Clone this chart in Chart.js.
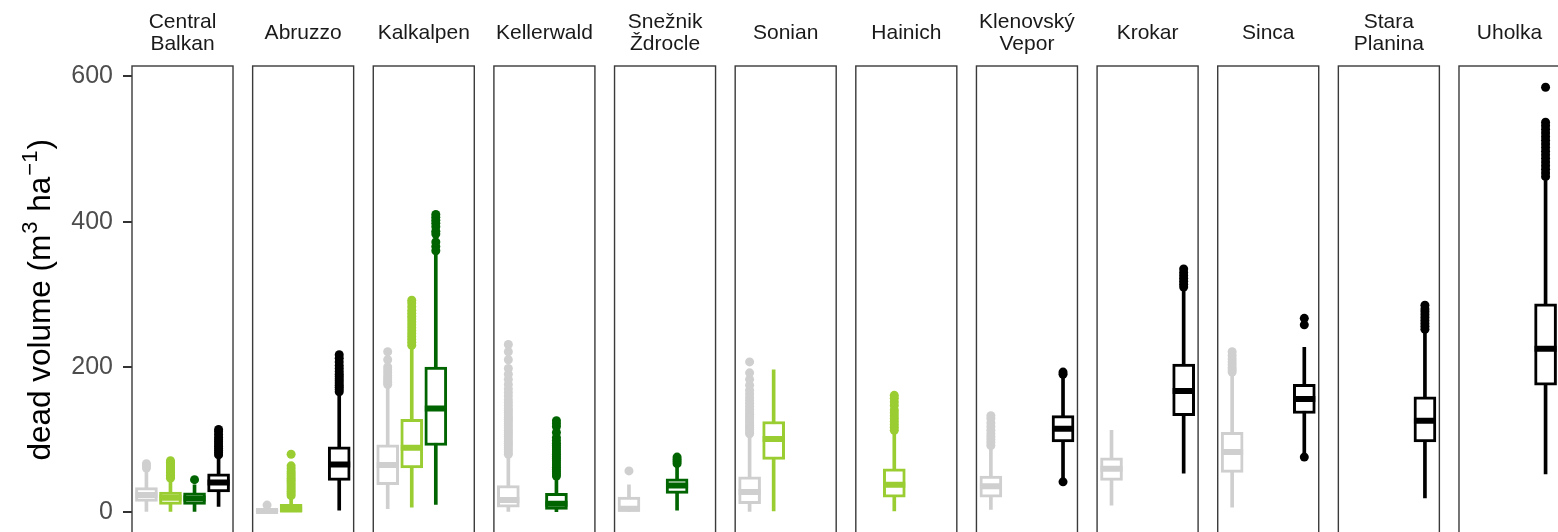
<!DOCTYPE html>
<html>
<head>
<meta charset="utf-8">
<script src="https://cdn.jsdelivr.net/npm/chart.js@4.4.1/dist/chart.umd.min.js"></script>
<style>
  html, body { margin: 0; padding: 0; background: #fff; overflow: hidden; }
  #wrap { position: relative; width: 1580px; height: 560px; }
</style>
</head>
<body>
<div id="wrap"><canvas id="chart" width="1580" height="560"></canvas></div>
<script>
// Facets (one panel per site), strip text split into lines
const sites = [
    ['Central', 'Balkan'], ['Abruzzo'], ['Kalkalpen'], ['Kellerwald'], ['Snežnik', 'Ždrocle'],
    ['Sonian'], ['Hainich'], ['Klenovský', 'Vepor'], ['Krokar'], ['Sinca'], ['Stara', 'Planina'], ['Uholka']
];

// Four groups inside every panel, drawn in this order
const groups = ['grey', 'lightgreen', 'darkgreen', 'black'];
const groupColors = ['#cfcfcf', '#9acd32', '#006400', '#000000'];

// Box statistics per site: [lower whisker, Q1, median, Q3, upper whisker]
const greyStats = [
    [0, 15, 24, 34, 57], [0, 0.5, 2, 4, 7], [5, 38, 65, 93, 172], [0, 7, 17, 37, 78],
    [0, 0, 5, 21, 38], [0, 12, 28, 49, 106], null, [4, 21, 36, 50, 88],
    [10, 44, 60, 75, 113], [7, 55, 83, 110, 190], null, null
];
const lightgreenStats = [
    [0, 11, 20, 28, 45], [0, 1, 4, 11, 21], [7, 61, 89, 128, 226], null,
    null, [2, 73, 101, 125, 196], [2, 21, 38, 60, 110], null,
    null, null, null, null
];
const darkgreenStats = [
    [0, 11, 19, 27, 38], null, [11, 92, 143, 200, 356], [1, 4, 12, 26, 48],
    [3, 26, 37, 46, 65], null, null, null,
    null, null, null, null
];
const blackStats = [
    [8, 28, 41, 53, 76], [3, 44, 66, 90, 160], null, null,
    null, null, null, [46, 97, 115, 133, 188],
    [54, 133, 167, 204, 305], [80, 136, 156, 176, 227], [20, 97, 126, 159, 248], [53, 175, 225, 287, 456]
];

// Outlying points per site
const greyOutliers = [
    [61, 64, 67], [10], [176, 179, 182, 185, 188, 192, 196, 200, 210, 221],
    [80, 83, 86, 89, 92, 95, 98, 101, 104, 107, 110, 113, 116, 119, 122, 125, 128, 131, 134, 137,
     140, 143, 147, 151, 155, 160, 165, 170, 176, 183, 190, 198, 210, 221, 231],
    [57],
    [108, 111, 114, 117, 120, 123, 126, 129, 132, 135, 138, 142, 146, 150, 154, 158, 163, 168, 175, 183, 192, 207],
    [], [92, 96, 100, 104, 108, 113, 118, 123, 129, 133], [],
    [193, 196, 199, 203, 207, 211, 216, 221], [], []
];
const lightgreenOutliers = [
    [47, 49, 51, 53, 55, 57, 59, 61, 63, 65, 67, 69, 71],
    [23, 26, 29, 32, 35, 38, 41, 44, 47, 50, 53, 56, 60, 64, 80],
    [230, 234, 238, 242, 246, 250, 254, 258, 262, 266, 270, 274, 278, 283, 288, 292],
    [], [], [],
    [113, 117, 121, 125, 129, 133, 137, 141, 147, 152, 157, 161],
    [], [], [], [], []
];
const darkgreenOutliers = [
    [45], [], [360, 366, 372, 383, 387, 393, 398, 402, 406, 410],
    [50, 53, 56, 59, 62, 65, 68, 71, 74, 77, 80, 83, 86, 89, 92, 95, 99, 103, 110, 118, 122, 126],
    [67, 70, 73, 76], [], [], [], [], [], [], []
];
const blackOutliers = [
    [79, 82, 85, 88, 91, 94, 97, 100, 103, 107, 111, 114],
    [166, 169, 172, 175, 178, 181, 184, 187, 190, 194, 198, 202, 207, 212, 217],
    [], [], [], [], [],
    [42, 190, 193],
    [310, 314, 318, 322, 326, 330, 335],
    [76, 258, 267],
    [252, 256, 260, 264, 268, 272, 276, 280, 285],
    [462, 467, 472, 477, 482, 487, 492, 497, 502, 507, 512, 517, 522, 527, 532, 537, 585]
];

const yTicks = [0, 200, 400, 600];
const yTitle = ['dead volume (m', '3', ' ha', '\u22121', ')'];

const allStats = [greyStats, lightgreenStats, darkgreenStats, blackStats];
const allOutliers = [greyOutliers, lightgreenOutliers, darkgreenOutliers, blackOutliers];

const FONT = '"Liberation Sans", Arial, sans-serif';
const PANEL_STEP = 5.016;   // x units from one panel start to the next
const SLOT_MIN = 0.4, SLOT_MAX = 4.6;

function slotX(siteIdx, groupIdx) {
    return siteIdx * PANEL_STEP + groupIdx + 1;
}

const datasets = [];
groups.forEach((g, gi) => {
    const color = groupColors[gi];
    const whiskers = [], boxes = [], medians = [], points = [];
    allStats[gi].forEach((s, si) => {
        if (!s) return;
        const x = slotX(si, gi);
        whiskers.push({ x: x, y: [s[0], s[4]] });
        boxes.push({ x: x, y: [s[1], s[3]] });
        medians.push({ x: x, y: s[2] });
        allOutliers[gi][si].forEach(v => points.push({ x: x, y: v }));
    });
    datasets.push({
        type: 'bar', label: g + ' whisker', data: whiskers, order: 4,
        backgroundColor: color, borderWidth: 0, barThickness: 3, grouped: false
    });
    datasets.push({
        type: 'bar', label: g + ' box', data: boxes, order: 3,
        backgroundColor: '#ffffff', borderColor: color, borderWidth: 3,
        borderSkipped: false, barThickness: 22, grouped: false
    });
    datasets.push({
        type: 'scatter', label: g + ' median', data: medians, order: 2,
        pointStyle: 'line', pointRadius: 11, pointBorderWidth: 6,
        pointBorderColor: color, pointBackgroundColor: color
    });
    datasets.push({
        type: 'scatter', label: g + ' outliers', data: points, order: 1,
        pointStyle: 'circle', pointRadius: 4.5, pointBorderWidth: 0,
        pointBackgroundColor: color, pointBorderColor: color
    });
});

// Panel borders, strip labels and the y axis title
const facetPlugin = {
    id: 'facets',
    afterDatasetsDraw(chart) {
        const ctx = chart.ctx;
        const xs = chart.scales.x;
        const area = chart.chartArea;
        ctx.save();
        ctx.strokeStyle = '#3a3a3a';
        ctx.lineWidth = 1.4;
        sites.forEach((lines, si) => {
            const left = xs.getPixelForValue(si * PANEL_STEP + SLOT_MIN);
            const right = xs.getPixelForValue(si * PANEL_STEP + SLOT_MAX);
            ctx.strokeRect(left, area.top, right - left, area.bottom - area.top);

            ctx.fillStyle = '#1a1a1a';
            ctx.font = '21px ' + FONT;
            ctx.textAlign = 'center';
            ctx.textBaseline = 'alphabetic';
            const cx = (left + right) / 2;
            if (lines.length === 1) {
                ctx.fillText(lines[0], cx, 39);
            } else {
                ctx.fillText(lines[0], cx, 27.5);
                ctx.fillText(lines[1], cx, 50);
            }
        });

        // rotated axis title with superscripts, centred on the panels
        const parts = yTitle.map((part, i) => {
            const sup = i === 1 || i === 3;
            ctx.font = (sup ? '22px ' : '31.5px ') + FONT;
            return { text: part, sup: sup, w: ctx.measureText(part).width + (sup ? 2 : 0) };
        });
        const total = parts.reduce((a, p) => a + p.w, 0);
        const midY = (area.top + area.bottom) / 2;
        ctx.translate(50, midY);
        ctx.rotate(-Math.PI / 2);
        ctx.fillStyle = '#000000';
        ctx.textAlign = 'left';
        let pos = -total / 2;
        parts.forEach(p => {
            ctx.font = (p.sup ? '22px ' : '31.5px ') + FONT;
            ctx.fillText(p.text, pos + (p.sup ? 1 : 0), p.sup ? -13 : 0);
            pos += p.w;
        });
        ctx.restore();
    }
};

new Chart(document.getElementById('chart'), {
    type: 'bar',
    data: { datasets: datasets },
    options: {
        responsive: false,
        animation: false,
        events: [],
        layout: { padding: { left: 0, top: 66, right: 20, bottom: 26.4 } },
        plugins: { legend: { display: false }, tooltip: { enabled: false }, title: { display: false } },
        scales: {
            x: {
                type: 'linear', display: false, offset: false,
                min: SLOT_MIN, max: 11 * PANEL_STEP + SLOT_MAX
            },
            y: {
                type: 'linear', position: 'left',
                min: -29.25, max: 614.25,
                afterBuildTicks: scale => { scale.ticks = yTicks.map(v => ({ value: v })); },
                afterFit: scale => { scale.width = 132; },
                ticks: { font: { size: 25, family: FONT }, color: '#4d4d4d', padding: 10 },
                grid: { drawOnChartArea: false, drawTicks: true, tickLength: 9, color: '#333333', lineWidth: 2 },
                border: { display: false }
            }
        }
    },
    plugins: [facetPlugin]
});
</script>
</body>
</html>
